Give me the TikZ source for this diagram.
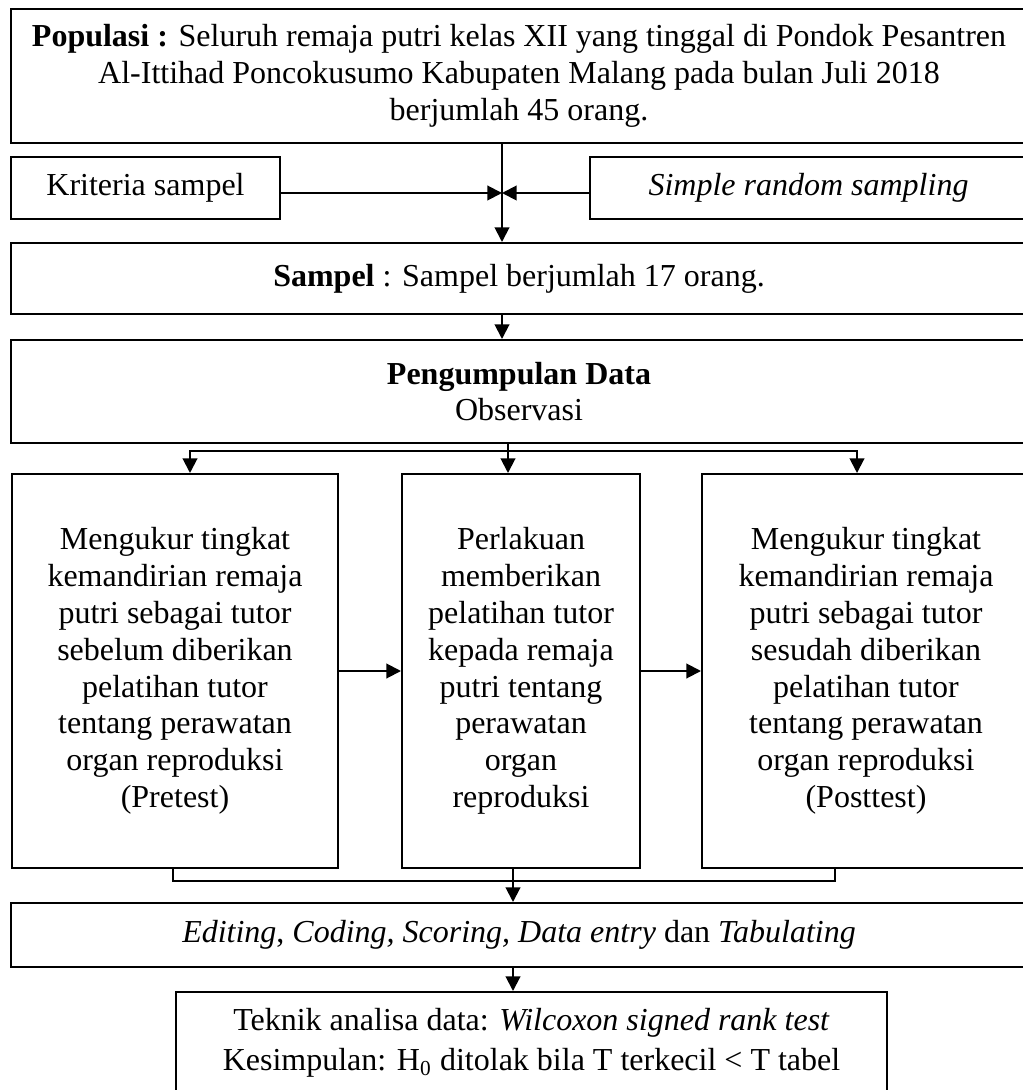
\documentclass[tikz,border=0pt]{standalone}
\usepackage{fontspec}
\setmainfont{Liberation Serif}
\usetikzlibrary{positioning,arrows.meta}
\newlength{\pix}
\setlength{\pix}{0.375pt}

\begin{document}
\begin{tikzpicture}[x=0.375pt,y=-0.375pt,line width=0.75pt,
        box/.style={draw,rectangle,align=center,inner sep=0pt,font=\fontsize{12}{13.8}\selectfont},
        arr/.style={-{Triangle[length=5.5pt,width=5.5pt]}}]
        \useasboundingbox (0,0) rectangle (1022,1090);
        \node(populasi)[box,anchor=north west,minimum width=1016\pix,minimum height=134\pix] at (10,8) {\textbf{Populasi :} Seluruh remaja putri kelas XII yang tinggal di Pondok Pesantren\\ Al-Ittihad Poncokusumo Kabupaten Malang pada bulan Juli 2018\\ berjumlah 45 orang.};
        \node(kriteria)[box,anchor=north west,minimum width=269\pix,minimum height=62\pix] at (10,156) {Kriteria sampel};
        \node(simple)[box,anchor=north west,minimum width=437\pix,minimum height=62\pix] at (589,156) {\textit{Simple random sampling}};
        \node(sampel)[box,anchor=north west,minimum width=1016\pix,minimum height=71\pix] at (10,242) {\textbf{Sampel} : Sampel berjumlah 17 orang.};
        \node(kumpul)[box,anchor=north west,minimum width=1016\pix,minimum height=103\pix] at (10,339) {\textbf{Pengumpulan Data}\\ Observasi};
        \node(pretest)[box,anchor=north west,minimum width=326\pix,minimum height=394\pix] at (11,473) {Mengukur tingkat\\ kemandirian remaja\\ putri sebagai tutor\\ sebelum diberikan\\ pelatihan tutor\\ tentang perawatan\\ organ reproduksi\\ (Pretest)};
        \node(perlakuan)[right =62\pix of pretest,box,minimum width=238\pix,minimum height=394\pix] {Perlakuan\\ memberikan\\ pelatihan tutor\\ kepada remaja\\ putri tentang\\ perawatan\\ organ\\ reproduksi};
        \node(posttest)[right =60\pix of perlakuan,box,minimum width=328\pix,minimum height=394\pix] {Mengukur tingkat\\ kemandirian remaja\\ putri sebagai tutor\\ sesudah diberikan\\ pelatihan tutor\\ tentang perawatan\\ organ reproduksi\\ (Posttest)};
        \node(olah)[box,anchor=north west,minimum width=1016\pix,minimum height=64\pix] at (10,902) {\textit{Editing}, \textit{Coding, Scoring, Data entry} dan \textit{Tabulating}};
        \node(analisa)[box,anchor=north west,minimum width=711\pix,minimum height=102\pix] at (175,991) {Teknik analisa data: \textit{Wilcoxon signed rank test}\\[1pt] Kesimpulan: H\textsubscript{0} ditolak bila T terkecil < T tabel};

        \coordinate (temu) at (502,193);
        \coordinate (cabang) at (508,451);
        \coordinate (kiri) at (190,451);
        \coordinate (kanan) at (857,451);
        \coordinate (gabung) at (513,881);
        \coordinate (bawahkiri) at (173,881);
        \coordinate (bawahkanan) at (835,881);

        \draw[arr] (populasi.south -| temu) -- (sampel.north -| temu);
        \draw[arr] (kriteria.east |- temu) -- (temu);
        \draw[arr] (simple.west |- temu) -- (temu);
        \draw[arr] (sampel.south -| temu) -- (kumpul.north -| temu);
        \draw (kumpul.south -| cabang) -- (cabang);
        \draw[arr] (cabang) -- (perlakuan.north -| cabang);
        \draw[arr] (cabang) -| (pretest.north -| kiri);
        \draw[arr] (cabang) -| (posttest.north -| kanan);
        \draw[arr] (pretest) -- (perlakuan);
        \draw[arr] (perlakuan) -- (posttest);
        \draw (pretest.south -| bawahkiri) |- (bawahkanan) -- (posttest.south -| bawahkanan);
        \draw[arr] (perlakuan.south -| gabung) -- (olah.north -| gabung);
        \draw[arr] (olah.south -| gabung) -- (analisa.north -| gabung);
\end{tikzpicture}
\end{document}
